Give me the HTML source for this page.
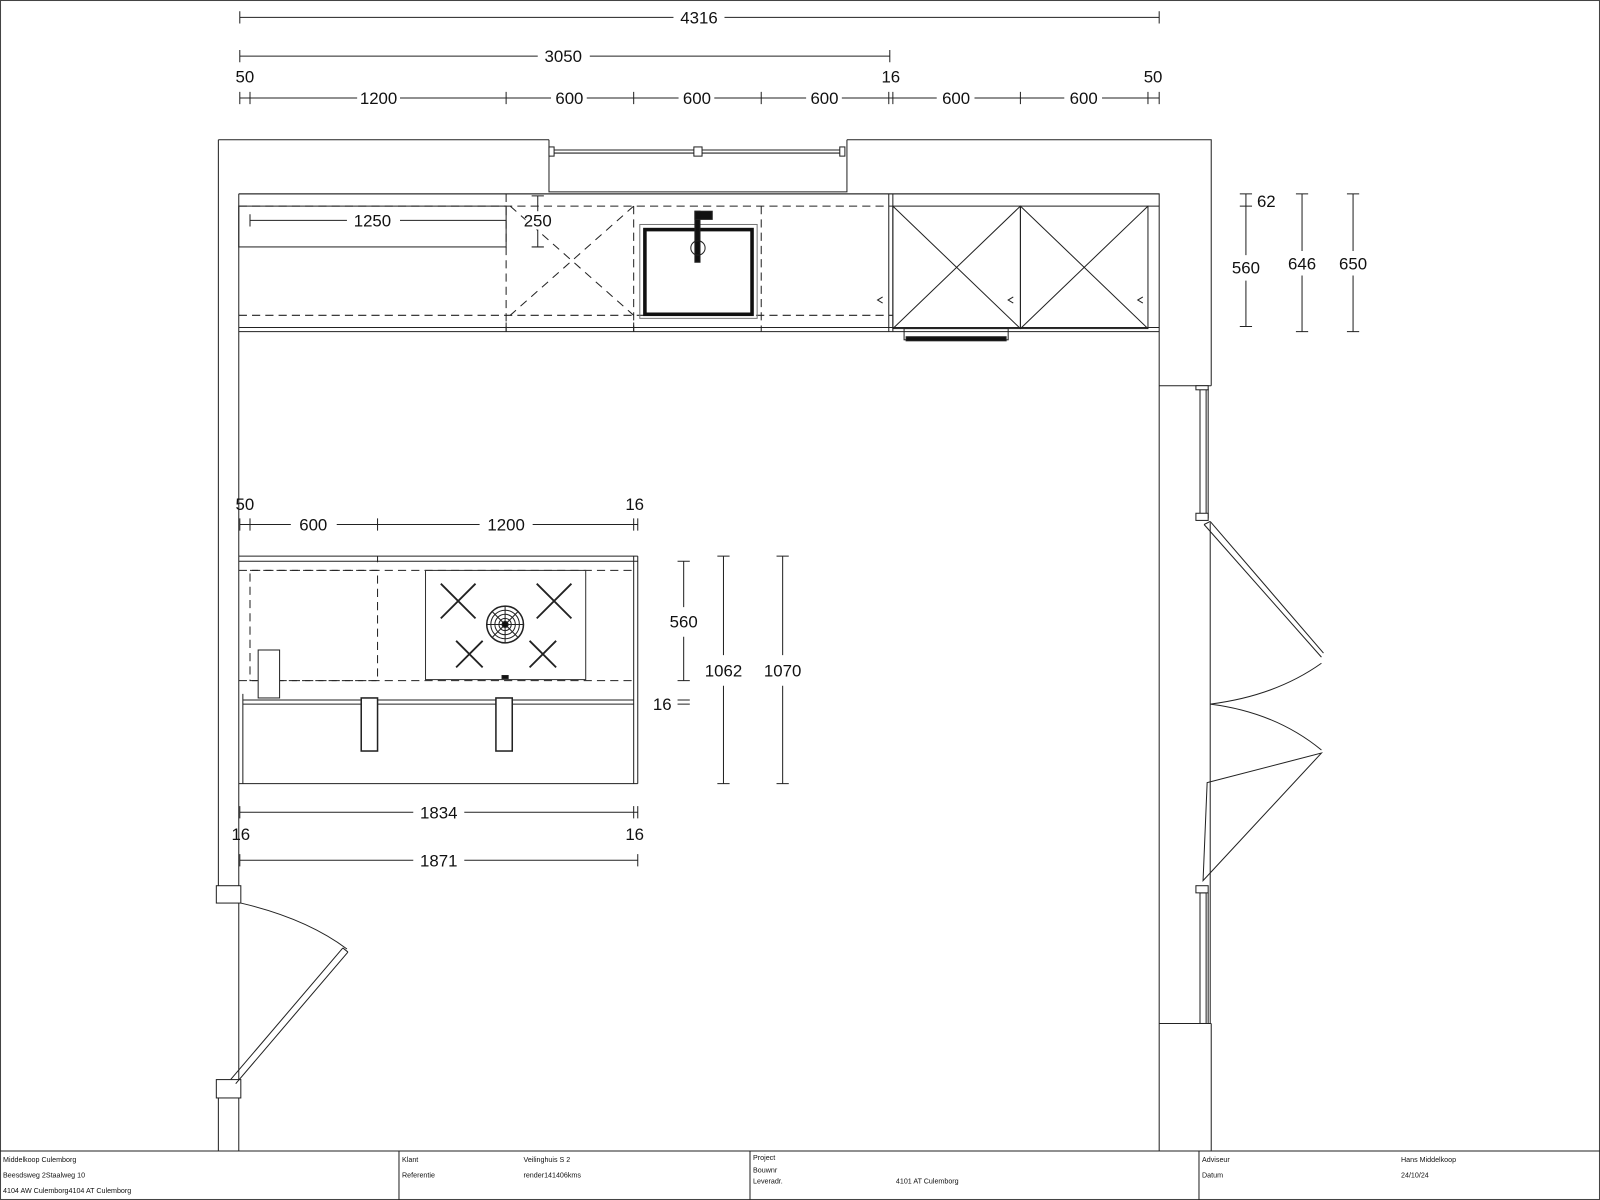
<!DOCTYPE html>
<html><head><meta charset="utf-8"><style>
html,body{margin:0;padding:0;background:#fff;}
svg{display:block;}
text{font-family:"Liberation Sans",sans-serif;fill:#111;}
.d{font-size:16.5px;text-anchor:middle;}
.t{font-size:7px;}
</style></head><body>
<svg width="1600" height="1200" viewBox="0 0 1568 1176" preserveAspectRatio="none" xmlns="http://www.w3.org/2000/svg">
<rect x="0.5" y="0.5" width="1567" height="1175" fill="#fff" stroke="#444" stroke-width="1"/>
<g stroke="#222" stroke-width="1" fill="none">
<path d="M214 137 H538 M830 137 H1187 V378 M1187 1003 V1128"/>
<path d="M214 137 V868 M214 1076 V1128 M234 190 V868 M234 1076 V1128"/>
<path d="M538 137 V188 H830 V137"/>
<path d="M234 190 H1136 V378 M1136 378 V1128 M1136 378 H1187 M1136 1003 H1187"/>
<path d="M540 147 H828 M540 150 H828"/>
<rect x="538" y="144" width="5" height="9" fill="#fff"/>
<rect x="680" y="144" width="8" height="9" fill="#fff"/>
<rect x="823" y="144" width="5" height="9" fill="#fff"/>
<rect x="1176" y="381" width="6" height="127"/><path d="M1184 381 V508"/>
<rect x="1172" y="378" width="12" height="4" fill="#fff"/>
<rect x="1172" y="503" width="12" height="7" fill="#fff"/>
<rect x="1176" y="875" width="6" height="128"/><path d="M1184 875 V1003"/>
<rect x="1172" y="868" width="12" height="7" fill="#fff"/>
<path d="M1186 512 V1003"/>
<path d="M1180 514 L1295 644 M1186 511 L1297 640 M1180 514 L1186 511"/>
<path d="M1295 650 Q1250 682 1186 690 Q1250 698 1295 735"/>
<path d="M1183 767 L1295 738 L1179 863 Z"/>
<rect x="212" y="868" width="24" height="17" fill="#fff"/>
<rect x="212" y="1058" width="24" height="18" fill="#fff"/>
<path d="M234 885 V1058"/>
<path d="M226 1058 L336 929 M231 1062 L341 933 M336 929 L341 933"/>
<path d="M236 885 Q300 900 340 930"/>
<path d="M234 190 H1136 M234 321 H1136 M234 325 H1136 M875 190 V325 M871 190 V325"/>
<path d="M234 202 H875 M234 309 H875" stroke-dasharray="8 5"/>
<path d="M496 190 V325 M621 202 V325 M746 202 V325" stroke-dasharray="8 5"/>
<path d="M496 316 V325 M621 316 V325"/>
<rect x="234" y="202" width="262" height="40"/>
<path d="M245 216 H340 M392 216 H496 M245 210 V222"/>
<path d="M500 202 L621 309 M621 202 L500 309" stroke-dasharray="8 6"/>
<rect x="875" y="202" width="125" height="120"/><rect x="1000" y="202" width="125" height="120"/>
<path d="M875 202 L1000 322 M1000 202 L875 322 M1000 202 L1125 322 M1125 202 L1000 322"/>
<path d="M1125 202 H1136"/>
<path d="M865 291 L860 294 L865 297 M993 291 L988 294 L993 297 M1120 291 L1115 294 L1120 297"/>
<rect x="886" y="322" width="102" height="11"/>
<rect x="888" y="330" width="98" height="4" fill="#111"/>
<rect x="627" y="220" width="115" height="92" stroke="#777"/>
<rect x="632" y="225" width="105" height="83" stroke="#111" stroke-width="3.5"/>
<rect x="681" y="207" width="5" height="50" fill="#111"/>
<rect x="681" y="207" width="17" height="8" fill="#111"/>
<circle cx="684" cy="243" r="7"/>
<path d="M235 17 H660 M710 17 H1136 M235 11 V23 M1136 11 V23"/>
<path d="M235 55 H527 M578 55 H872 M235 49 V61 M872 49 V61"/>
<path d="M235 96 H350 M392 96 H540 M575 96 H665 M700 96 H790 M825 96 H918 M955 96 H1043 M1080 96 H1136"/>
<path d="M235 90 V102 M245 90 V102 M496 90 V102 M621 90 V102 M746 90 V102 M871 90 V102 M875 90 V102 M1000 90 V102 M1125 90 V102 M1136 90 V102"/>
<path d="M1221 190 V250 M1221 275 V320 M1215 190 H1227 M1215 202 H1227 M1215 320 H1227"/>
<path d="M1276 190 V246 M1276 270 V325 M1270 190 H1282 M1270 325 H1282"/>
<path d="M1326 190 V246 M1326 270 V325 M1320 190 H1332 M1320 325 H1332"/>
<path d="M234 545 H625 M234 550 H625 M621 545 V768 M625 545 V768 M238 680 V768 M234 768 H625 M370 545 V551"/>
<path d="M234 559 H621 M234 667 H621" stroke-dasharray="8 5"/>
<rect x="245" y="559" width="125" height="108" stroke-dasharray="8 5"/>
<rect x="417" y="559" width="157" height="107" stroke="#333"/>
<path d="M238 686 H621 M238 690 H621"/>
<rect x="253" y="637" width="21" height="47" fill="#fff"/>
<rect x="354" y="684" width="16" height="52" fill="#fff" stroke-width="1.5"/>
<rect x="486" y="684" width="16" height="52" fill="#fff" stroke-width="1.5"/>
<g stroke-width="1.8">
<path d="M432 572 L466 606 M466 572 L432 606 M526 572 L560 606 M560 572 L526 606 M447 628 L473 654 M473 628 L447 654 M519 628 L545 654 M545 628 L519 654"/>
</g>
<circle cx="495" cy="612" r="18" stroke-width="1.5"/>
<circle cx="495" cy="612" r="14"/><circle cx="495" cy="612" r="10"/><circle cx="495" cy="612" r="6"/>
<path d="M477 612 H513 M495 594 V630 M482 599 L508 625 M508 599 L482 625"/>
<circle cx="495" cy="612" r="3" fill="#111"/>
<rect x="492" y="662" width="6" height="3" fill="#111"/>
<path d="M235 514 H285 M330 514 H470 M522 514 H625 M235 508 V520 M245 508 V520 M370 508 V520 M621 508 V520 M625 508 V520"/>
<path d="M670 550 V595 M670 624 V667 M664 550 H676 M664 667 H676"/>
<path d="M664 686 H676 M664 690 H676"/>
<path d="M709 545 V642 M709 672 V768 M703 545 H715 M703 768 H715"/>
<path d="M767 545 V642 M767 672 V768 M761 545 H773 M761 768 H773"/>
<path d="M235 796 H405 M455 796 H625 M235 790 V802 M621 790 V802 M625 790 V802"/>
<path d="M235 843 H405 M455 843 H625 M235 837 V849 M625 837 V849"/>
<path d="M527 192 V242 M521 192 H533 M521 242 H533"/>
<path d="M0 1128 H1568 M391 1128 V1176 M735 1128 V1176 M1175 1128 V1176"/>
</g>
<rect x="515" y="207" width="26" height="18" fill="#fff"/>
<text class="d" x="685" y="23">4316</text>
<text class="d" x="552" y="61">3050</text>
<text class="d" x="240" y="81">50</text><text class="d" x="873" y="81">16</text><text class="d" x="1130" y="81">50</text>
<text class="d" x="371" y="102">1200</text><text class="d" x="558" y="102">600</text><text class="d" x="683" y="102">600</text><text class="d" x="808" y="102">600</text><text class="d" x="937" y="102">600</text><text class="d" x="1062" y="102">600</text>
<text class="d" x="365" y="222">1250</text>
<text class="d" x="527" y="222">250</text>
<text class="d" x="1241" y="203">62</text>
<text class="d" x="1221" y="268">560</text>
<text class="d" x="1276" y="264">646</text>
<text class="d" x="1326" y="264">650</text>
<text class="d" x="240" y="500">50</text><text class="d" x="622" y="500">16</text>
<text class="d" x="307" y="520">600</text><text class="d" x="496" y="520">1200</text>
<text class="d" x="670" y="615">560</text>
<text class="d" x="649" y="696">16</text>
<text class="d" x="709" y="663">1062</text>
<text class="d" x="767" y="663">1070</text>
<text class="d" x="430" y="802">1834</text>
<text class="d" x="236" y="823">16</text><text class="d" x="622" y="823">16</text>
<text class="d" x="430" y="849">1871</text>
<text class="t" x="3" y="1139">Middelkoop Culemborg</text>
<text class="t" x="3" y="1154">Beesdsweg 2Staalweg 10</text>
<text class="t" x="3" y="1169">4104 AW Culemborg4104 AT Culemborg</text>
<text class="t" x="394" y="1139">Klant</text>
<text class="t" x="394" y="1154">Referentie</text>
<text class="t" x="513" y="1139">Veilinghuis S 2</text>
<text class="t" x="513" y="1154">render141406kms</text>
<text class="t" x="738" y="1137">Project</text>
<text class="t" x="738" y="1149">Bouwnr</text>
<text class="t" x="738" y="1160">Leveradr.</text>
<text class="t" x="878" y="1160">4101 AT Culemborg</text>
<text class="t" x="1178" y="1139">Adviseur</text>
<text class="t" x="1178" y="1154">Datum</text>
<text class="t" x="1373" y="1139">Hans Middelkoop</text>
<text class="t" x="1373" y="1154">24/10/24</text>
</svg>
</body></html>
